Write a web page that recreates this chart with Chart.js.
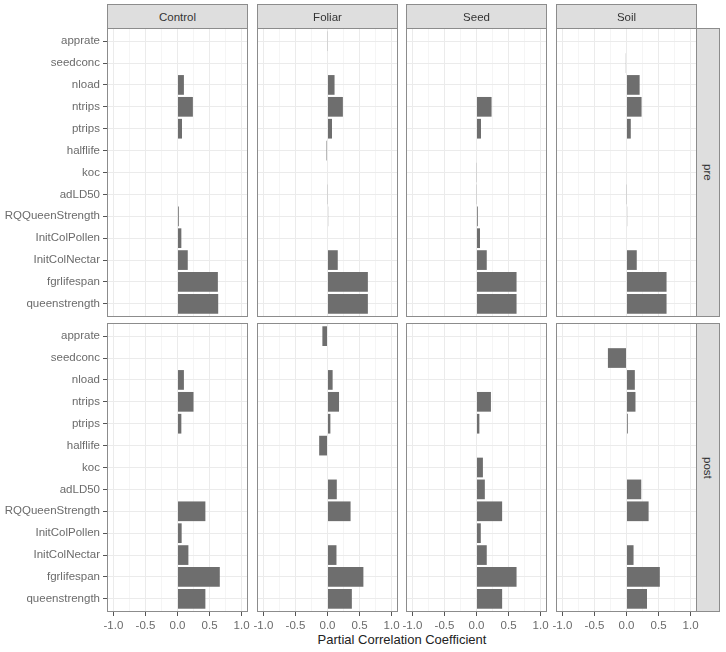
<!DOCTYPE html>
<html lang="en">
<head>
<meta charset="UTF-8">
<title>Partial Correlation Coefficient</title>
<script src="https://cdn.jsdelivr.net/npm/chart.js"></script>
<style>
  body { margin: 0; background: #fff; font-family: "Liberation Sans", Arial, sans-serif; }
  #wrap { position: relative; width: 726px; height: 652px; overflow: hidden; }
  .box { position: absolute; }
  .strip { position: absolute; box-sizing: border-box; background: #dedede; border: 1px solid #8c8c8c;
           color: #333; font-size: 11.5px; display: flex; align-items: center; justify-content: center; }
  .strip.side span { writing-mode: vertical-rl; }
  #xtitle { position: absolute; left: 107px; width: 590px; top: 632px; text-align: center; font-size: 13px; color: #222; }
</style>
</head>
<body>
<div id="wrap">
  <div id="xtitle">Partial Correlation Coefficient</div>
</div>
<script>
// variables, top to bottom
var categories = ['apprate', 'seedconc', 'nload', 'ntrips', 'ptrips', 'halflife', 'koc',
                  'adLD50', 'RQQueenStrength', 'InitColPollen', 'InitColNectar', 'fgrlifespan', 'queenstrength'];
var columns = ['Control', 'Foliar', 'Seed', 'Soil'];
var rows = ['pre', 'post'];

// pre
var preControl = [0, 0, 0.10, 0.24, 0.07, 0, 0, 0, 0.02, 0.06, 0.16, 0.63, 0.635];
var preFoliar  = [0.005, 0, 0.11, 0.24, 0.07, -0.015, 0, 0.005, 0.01, 0, 0.16, 0.63, 0.63];
var preSeed    = [0, 0, 0, 0.235, 0.07, 0, 0.005, 0.005, 0.02, 0.055, 0.16, 0.625, 0.625];
var preSoil    = [0, -0.01, 0.205, 0.235, 0.067, 0, 0, 0.005, 0.01, 0, 0.16, 0.625, 0.625];

// post
var postControl = [0, 0, 0.10, 0.25, 0.06, 0, 0, 0, 0.435, 0.065, 0.17, 0.66, 0.435];
var postFoliar  = [-0.08, 0, 0.08, 0.18, 0.045, -0.13, 0, 0.145, 0.36, 0, 0.14, 0.56, 0.38];
var postSeed    = [0, 0, 0, 0.225, 0.045, 0, 0.10, 0.13, 0.40, 0.067, 0.16, 0.625, 0.40];
var postSoil    = [0, -0.29, 0.13, 0.14, 0.02, 0, 0, 0.23, 0.345, 0, 0.11, 0.52, 0.32];

var panelData = [
  [preControl, preFoliar, preSeed, preSoil],
  [postControl, postFoliar, postSeed, postSoil]
];

// layout
var panelLeft = [107, 257, 406, 556];
var panelWidth = 141;
var rowTop = [28, 323];
var panelHeight = 289;
var lineCol = '#8c8c8c';
var font = { family: '"Liberation Sans", Arial, sans-serif', size: 11.5 };

var wrap = document.getElementById('wrap');

function isMajor(v) {
  return Math.abs(v * 2 - Math.round(v * 2)) < 1e-6;
}

var panelBorder = {
  id: 'panelBorder',
  afterDraw: function (chart) {
    var a = chart.chartArea, c = chart.ctx;
    c.save();
    c.strokeStyle = lineCol;
    c.lineWidth = 1;
    c.strokeRect(a.left + 0.5, a.top + 0.5, a.right - a.left - 1, a.bottom - a.top - 1);
    c.restore();
  }
};

function noPad(s) {
  s.paddingTop = 0; s.paddingBottom = 0; s.paddingLeft = 0; s.paddingRight = 0;
}

function makePanel(r, c) {
  var isLeft = c === 0, isBottom = r === 1;
  var padL = isLeft ? 0 : 10, padR = 10, yW = isLeft ? 107 : 0;
  var w = padL + yW + panelWidth + padR;
  var h = panelHeight + (isBottom ? 30 : 0);

  var div = document.createElement('div');
  div.className = 'box';
  div.style.left = (panelLeft[c] - yW - padL) + 'px';
  div.style.top = rowTop[r] + 'px';
  div.style.width = w + 'px';
  div.style.height = h + 'px';
  var cv = document.createElement('canvas');
  cv.width = w; cv.height = h;
  cv.style.width = w + 'px'; cv.style.height = h + 'px';
  div.appendChild(cv);
  wrap.appendChild(div);

  var vals = panelData[r][c];
  new Chart(cv, {
    type: 'bar',
    data: {
      datasets: [{
        data: vals.map(function (v, i) { return { x: v, y: i }; }),
        backgroundColor: '#6e6e6e',
        borderWidth: 0,
        barPercentage: 0.9,
        categoryPercentage: 1
      }]
    },
    options: {
      indexAxis: 'y',
      responsive: false,
      animation: false,
      events: [],
      layout: { autoPadding: false, padding: { left: padL, right: padR, top: 0, bottom: 0 } },
      plugins: { legend: { display: false }, tooltip: { enabled: false } },
      scales: {
        x: {
          type: 'linear', min: -1.1, max: 1.1, offset: false,
          border: { display: false },
          ticks: {
            display: isBottom, stepSize: 0.25, includeBounds: false, autoSkip: false,
            maxRotation: 0, padding: 3, color: '#6b6b6b', font: font,
            callback: function (v) { return isMajor(v) ? v.toFixed(1) : ''; }
          },
          grid: {
            offset: false,
            color: function (ctx) {
              if (!ctx.tick) return '#ebebeb';
              return isMajor(ctx.tick.value) ? '#ebebeb' : '#f5f5f5';
            },
            lineWidth: 1,
            drawTicks: isBottom, tickLength: 4,
            tickColor: function (ctx) {
              return ctx.tick && isMajor(ctx.tick.value) ? '#555' : 'rgba(0,0,0,0)';
            }
          },
          afterFit: function (s) { s.height = isBottom ? 30 : 0; noPad(s); }
        },
        y: {
          type: 'linear', reverse: true, min: -0.6, max: 12.6, offset: false,
          border: { display: false },
          ticks: {
            display: isLeft, stepSize: 1, includeBounds: false, autoSkip: false,
            padding: 3, color: '#6b6b6b', font: font,
            callback: function (v) { return categories[v]; }
          },
          grid: { offset: false, color: '#ebebeb', lineWidth: 1, drawTicks: isLeft, tickLength: 4, tickColor: '#555' },
          afterFit: function (s) { s.width = yW; noPad(s); }
        }
      }
    },
    plugins: [panelBorder]
  });
}

for (var r = 0; r < rows.length; r++) {
  for (var c = 0; c < columns.length; c++) {
    makePanel(r, c);
  }
}

// column strips
columns.forEach(function (name, c) {
  var s = document.createElement('div');
  s.className = 'strip';
  s.style.left = panelLeft[c] + 'px';
  s.style.top = '4px';
  s.style.width = panelWidth + 'px';
  s.style.height = '25px';
  s.textContent = name;
  wrap.appendChild(s);
});

// row strips
rows.forEach(function (name, r) {
  var s = document.createElement('div');
  s.className = 'strip side';
  s.style.left = (panelLeft[3] + panelWidth - 1) + 'px';
  s.style.top = rowTop[r] + 'px';
  s.style.width = '24px';
  s.style.height = panelHeight + 'px';
  var t = document.createElement('span');
  t.textContent = name;
  s.appendChild(t);
  wrap.appendChild(s);
});
</script>
</body>
</html>
